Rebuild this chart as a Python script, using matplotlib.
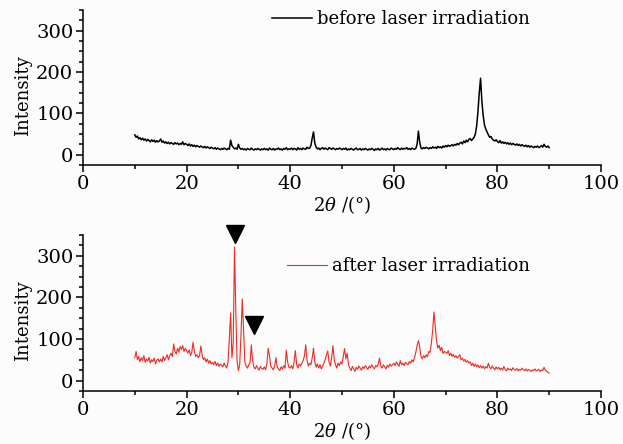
import numpy as np
import matplotlib
matplotlib.use("Agg")
import matplotlib.pyplot as plt
from matplotlib.ticker import MultipleLocator

plt.rcParams['font.family'] = 'DejaVu Serif'
plt.rcParams['mathtext.fontset'] = 'dejavuserif'

# 2theta grid of the digitised patterns (deg)
two_theta = np.arange(10, 90.001, 0.25)

# intensity before laser irradiation
before = [
    48, 42, 45, 38, 41, 36, 40, 35, 38, 33, 37, 34, 31, 36, 32, 35, 30, 34, 31, 33,
    38, 30, 33, 28, 31, 27, 30, 26, 29, 27, 25, 29, 26, 28, 24, 27, 25, 31, 24, 27,
    25, 22, 26, 21, 24, 20, 23, 19, 22, 20, 18, 21, 19, 17, 20, 16, 19, 17, 15, 18,
    16, 14, 17, 13, 16, 14, 12, 15, 13, 16, 14, 12, 15, 13, 35, 22, 18, 14, 16, 13,
    25, 16, 13, 15, 12, 14, 11, 15, 13, 12, 16, 13, 11, 14, 12, 15, 13, 11, 14, 12,
    15, 12, 14, 11, 16, 13, 12, 15, 11, 14, 13, 16, 12, 14, 11, 15, 13, 17, 12, 14,
    13, 16, 12, 15, 14, 11, 17, 13, 15, 12, 16, 14, 13, 18, 15, 16, 22, 40, 55, 28,
    18, 14, 16, 12, 15, 17, 13, 16, 14, 12, 17, 15, 13, 16, 14, 12, 15, 13, 16, 14,
    12, 15, 13, 16, 11, 14, 12, 15, 13, 11, 14, 16, 12, 13, 15, 11, 14, 12, 15, 13,
    11, 14, 12, 15, 13, 10, 14, 12, 15, 11, 13, 16, 12, 14, 11, 15, 13, 12, 16, 14,
    12, 15, 13, 17, 14, 12, 16, 13, 15, 14, 17, 13, 15, 12, 16, 14, 13, 15, 25, 57,
    30, 16, 14, 17, 15, 18, 16, 14, 17, 15, 19, 16, 18, 15, 20, 17, 19, 16, 21, 18,
    22, 19, 23, 20, 22, 24, 21, 25, 23, 27, 24, 28, 30, 26, 33, 29, 35, 31, 37, 39,
    34, 38, 42, 50, 70, 105, 150, 185, 130, 95, 72, 62, 55, 48, 42, 44, 38, 35, 33, 36,
    32, 29, 34, 28, 31, 27, 30, 26, 29, 25, 28, 24, 27, 25, 23, 26, 22, 25, 21, 24,
    22, 20, 23, 19, 22, 18, 21, 19, 17, 20, 18, 21, 17, 19, 22, 18, 25, 20, 18, 21,
    17,
]

# intensity after laser irradiation
after = [
    55, 70, 50, 58, 45, 55, 48, 60, 44, 52, 47, 56, 42, 50, 46, 54, 40, 49, 52, 45,
    52, 45, 58, 48, 55, 62, 50, 60, 66, 58, 88, 70, 64, 78, 68, 82, 75, 84, 70, 78,
    72, 66, 74, 60, 68, 92, 70, 58, 62, 55, 60, 83, 62, 50, 55, 45, 52, 42, 48, 40,
    44, 38, 46, 36, 42, 34, 40, 37, 33, 42, 35, 30, 45, 100, 163, 55, 90, 321, 165, 45,
    24, 38, 110, 196, 120, 45, 35, 30, 38, 42, 86, 48, 32, 28, 36, 30, 25, 34, 29, 27,
    33, 26, 40, 78, 60, 35, 30, 26, 35, 55, 32, 28, 24, 33, 28, 36, 30, 73, 45, 32,
    30, 36, 28, 45, 72, 38, 30, 40, 35, 42, 48, 60, 86, 50, 35, 42, 38, 55, 78, 45,
    32, 40, 30, 38, 28, 35, 42, 50, 62, 71, 45, 35, 55, 84, 50, 38, 30, 42, 36, 45,
    40, 58, 77, 52, 66, 38, 30, 24, 34, 28, 22, 32, 27, 35, 30, 25, 33, 29, 36, 31,
    27, 35, 30, 38, 32, 28, 36, 33, 40, 54, 34, 30, 38, 33, 28, 37, 32, 40, 35, 38,
    42, 36, 45, 39, 34, 48, 38, 42, 36, 44, 40, 38, 46, 42, 50, 45, 55, 68, 85, 96,
    80, 58, 52, 60, 55, 62, 57, 70, 68, 90, 120, 165, 130, 95, 78, 85, 72, 80, 65, 70,
    68, 65, 72, 60, 66, 58, 63, 56, 60, 54, 58, 62, 50, 54, 47, 51, 44, 48, 42, 45,
    36, 42, 34, 40, 33, 38, 31, 36, 30, 35, 28, 34, 30, 42, 32, 28, 35, 30, 26, 33,
    28, 32, 26, 30, 25, 34, 27, 23, 30, 26, 28, 24, 31, 27, 25, 29, 23, 27, 25, 30,
    26, 24, 28, 23, 27, 25, 22, 26, 24, 28, 23, 25, 27, 22, 26, 24, 32, 25, 22, 20,
    18,
]

# peak markers (black triangles) in the lower panel
marker_x = [29.3, 33.0]
marker_y = [353, 134]

fig = plt.figure(figsize=(6.23, 4.44), dpi=100)
fig.patch.set_facecolor('#fcfcfc')

ax1 = fig.add_axes([0.1332, 0.6284, 0.8315, 0.3491])
ax2 = fig.add_axes([0.1332, 0.1194, 0.8315, 0.3513])


def style_axis(ax):
    ax.set_facecolor('#fcfcfc')
    ax.set_xlim(0, 100)
    ax.set_ylim(-25, 350)
    for s in ['top', 'right']:
        ax.spines[s].set_visible(False)
    for s in ['left', 'bottom']:
        ax.spines[s].set_linewidth(1.1)
    ax.xaxis.set_major_locator(MultipleLocator(20))
    ax.xaxis.set_minor_locator(MultipleLocator(10))
    ax.yaxis.set_minor_locator(MultipleLocator(25))
    ax.set_yticks([0, 100, 200, 300])
    ax.tick_params(which='major', direction='out', length=5, width=1.1, labelsize=14, pad=2)
    ax.tick_params(which='minor', direction='out', length=3, width=1.1)
    ax.set_xlabel(r'2$\theta$ /(°)', fontsize=13, labelpad=1)
    ax.set_ylabel('Intensity', fontsize=13)
    ax.yaxis.set_label_coords(-0.098, 0.45)


ax1.plot(two_theta, before, color='black', linewidth=1.1, label='before laser irradiation')
style_axis(ax1)
ax1.legend(loc='upper left', bbox_to_anchor=(0.365, 1.0), frameon=False, fontsize=13,
           handlelength=2.2, handletextpad=0.3, borderpad=0, borderaxespad=0)

ax2.plot(two_theta, after, color='#ee2b24', linewidth=0.8, label='after laser irradiation')
ax2.plot(marker_x, marker_y, linestyle='none', marker='v', markersize=13,
         color='black', clip_on=False)
style_axis(ax2)
ax2.legend(loc='upper left', bbox_to_anchor=(0.394, 0.86), frameon=False, fontsize=13,
           handlelength=2.2, handletextpad=0.3, borderpad=0, borderaxespad=0)

fig.savefig('out.png', dpi=100, facecolor=fig.get_facecolor())
